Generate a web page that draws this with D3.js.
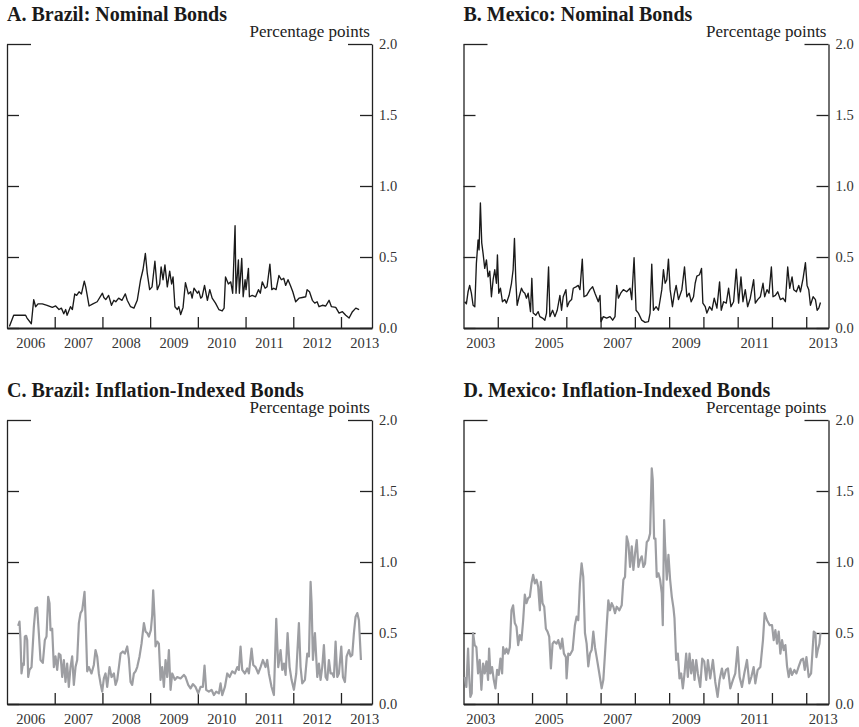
<!DOCTYPE html>
<html>
<head>
<meta charset="utf-8">
<script src="https://cdn.jsdelivr.net/npm/d3@7"></script>
<style>
  body { margin: 0; background: #fff; }
  svg { display: block; }
  svg text { font-family: "Liberation Serif", "Times New Roman", serif; }
</style>
</head>
<body>
<div id="chart"></div>
<script>
// Values: [decimal year, percentage points]
var brazilNominal = [[2006.05,0.01],[2006.14,0.09],[2006.39,0.09],[2006.42,0.07],[2006.51,0.03],[2006.56,0.20],[2006.60,0.15],[2006.65,0.17],[2006.74,0.17],[2006.84,0.16],[2006.95,0.145],[2007.02,0.155],[2007.09,0.13],[2007.14,0.14],[2007.19,0.10],[2007.23,0.13],[2007.26,0.09],[2007.33,0.15],[2007.37,0.13],[2007.42,0.24],[2007.46,0.23],[2007.51,0.255],[2007.56,0.24],[2007.62,0.33],[2007.65,0.29],[2007.72,0.155],[2007.80,0.17],[2007.89,0.185],[2008.00,0.245],[2008.03,0.215],[2008.07,0.20],[2008.13,0.23],[2008.19,0.16],[2008.24,0.195],[2008.28,0.185],[2008.34,0.21],[2008.41,0.195],[2008.48,0.24],[2008.52,0.195],[2008.59,0.15],[2008.66,0.14],[2008.73,0.195],[2008.80,0.34],[2008.85,0.41],[2008.90,0.525],[2008.94,0.385],[2008.99,0.27],[2009.04,0.29],[2009.10,0.47],[2009.15,0.27],[2009.20,0.31],[2009.23,0.43],[2009.27,0.34],[2009.31,0.445],[2009.36,0.29],[2009.41,0.40],[2009.45,0.31],[2009.48,0.36],[2009.52,0.15],[2009.57,0.13],[2009.60,0.15],[2009.64,0.095],[2009.69,0.145],[2009.74,0.32],[2009.80,0.24],[2009.85,0.255],[2009.88,0.21],[2009.92,0.28],[2009.99,0.245],[2010.02,0.26],[2010.06,0.21],[2010.09,0.22],[2010.14,0.30],[2010.20,0.195],[2010.25,0.27],[2010.30,0.21],[2010.37,0.175],[2010.44,0.13],[2010.51,0.12],[2010.55,0.14],[2010.58,0.36],[2010.64,0.31],[2010.69,0.325],[2010.73,0.245],[2010.78,0.72],[2010.80,0.245],[2010.85,0.48],[2010.87,0.245],[2010.92,0.49],[2010.95,0.22],[2010.99,0.34],[2011.01,0.27],[2011.06,0.42],[2011.08,0.22],[2011.14,0.23],[2011.21,0.22],[2011.27,0.27],[2011.31,0.245],[2011.35,0.325],[2011.41,0.28],[2011.45,0.29],[2011.51,0.45],[2011.55,0.27],[2011.59,0.28],[2011.64,0.27],[2011.70,0.37],[2011.75,0.34],[2011.80,0.35],[2011.84,0.30],[2011.89,0.34],[2011.94,0.30],[2011.99,0.255],[2012.05,0.185],[2012.12,0.21],[2012.19,0.215],[2012.26,0.22],[2012.29,0.27],[2012.34,0.255],[2012.40,0.195],[2012.45,0.175],[2012.50,0.185],[2012.54,0.15],[2012.61,0.16],[2012.68,0.155],[2012.75,0.195],[2012.80,0.15],[2012.89,0.145],[2012.96,0.105],[2013.03,0.115],[2013.10,0.09],[2013.17,0.07],[2013.24,0.115],[2013.31,0.14],[2013.38,0.13]];

var mexicoNominal = [[2003.035,0.185],[2003.084,0.17],[2003.133,0.255],[2003.18,0.30],[2003.23,0.245],[2003.28,0.16],[2003.33,0.15],[2003.376,0.455],[2003.425,0.62],[2003.454,0.55],[2003.493,0.88],[2003.532,0.60],[2003.571,0.525],[2003.62,0.42],[2003.669,0.48],[2003.717,0.36],[2003.766,0.40],[2003.815,0.22],[2003.864,0.34],[2003.912,0.41],[2003.961,0.315],[2003.99,0.515],[2004.029,0.245],[2004.078,0.28],[2004.136,0.185],[2004.205,0.20],[2004.253,0.175],[2004.331,0.23],[2004.40,0.315],[2004.448,0.41],[2004.487,0.63],[2004.526,0.34],[2004.565,0.16],[2004.624,0.22],[2004.692,0.28],[2004.74,0.255],[2004.789,0.245],[2004.838,0.21],[2004.887,0.245],[2004.955,0.115],[2004.994,0.35],[2005.033,0.105],[2005.111,0.09],[2005.179,0.115],[2005.228,0.08],[2005.306,0.07],[2005.374,0.055],[2005.423,0.105],[2005.482,0.43],[2005.521,0.08],[2005.599,0.125],[2005.667,0.08],[2005.735,0.125],[2005.813,0.23],[2005.861,0.125],[2005.91,0.22],[2005.988,0.27],[2006.027,0.15],[2006.086,0.185],[2006.154,0.20],[2006.203,0.28],[2006.281,0.29],[2006.349,0.30],[2006.398,0.27],[2006.466,0.485],[2006.515,0.22],[2006.593,0.23],[2006.69,0.27],[2006.768,0.29],[2006.836,0.245],[2006.934,0.185],[2006.983,0.23],[2007.012,0.045],[2007.08,0.08],[2007.177,0.07],[2007.275,0.08],[2007.353,0.055],[2007.421,0.08],[2007.47,0.30],[2007.519,0.21],[2007.587,0.245],[2007.665,0.27],[2007.762,0.255],[2007.86,0.28],[2007.909,0.20],[2007.977,0.495],[2008.035,0.125],[2008.103,0.105],[2008.201,0.055],[2008.298,0.04],[2008.396,0.045],[2008.444,0.105],[2008.493,0.45],[2008.542,0.125],[2008.62,0.15],[2008.688,0.125],[2008.786,0.27],[2008.834,0.41],[2008.883,0.315],[2008.932,0.34],[2008.98,0.485],[2009.029,0.27],[2009.097,0.15],[2009.156,0.245],[2009.205,0.30],[2009.273,0.20],[2009.371,0.27],[2009.449,0.43],[2009.517,0.22],[2009.585,0.245],[2009.643,0.185],[2009.712,0.22],[2009.76,0.315],[2009.809,0.365],[2009.887,0.375],[2009.945,0.42],[2009.984,0.175],[2010.053,0.15],[2010.101,0.105],[2010.179,0.15],[2010.248,0.125],[2010.316,0.21],[2010.394,0.14],[2010.472,0.325],[2010.52,0.125],[2010.589,0.185],[2010.667,0.175],[2010.735,0.28],[2010.803,0.15],[2010.881,0.185],[2010.959,0.415],[2011.027,0.175],[2011.096,0.36],[2011.154,0.185],[2011.222,0.27],[2011.29,0.15],[2011.368,0.21],[2011.466,0.34],[2011.515,0.175],[2011.583,0.20],[2011.661,0.22],[2011.739,0.315],[2011.787,0.22],[2011.856,0.27],[2011.914,0.245],[2011.983,0.43],[2012.031,0.22],[2012.10,0.23],[2012.168,0.255],[2012.246,0.20],[2012.324,0.21],[2012.392,0.185],[2012.46,0.43],[2012.518,0.28],[2012.587,0.36],[2012.636,0.27],[2012.713,0.255],[2012.782,0.30],[2012.831,0.255],[2012.909,0.35],[2012.977,0.46],[2013.025,0.30],[2013.074,0.27],[2013.123,0.16],[2013.201,0.22],[2013.269,0.20],[2013.318,0.125],[2013.367,0.14],[2013.416,0.18]];

var brazilIndexed = [[2006.234,0.55],[2006.262,0.58],[2006.283,0.45],[2006.304,0.215],[2006.332,0.285],[2006.353,0.275],[2006.374,0.475],[2006.402,0.48],[2006.423,0.45],[2006.444,0.19],[2006.472,0.24],[2006.514,0.26],[2006.563,0.545],[2006.597,0.675],[2006.632,0.68],[2006.667,0.50],[2006.702,0.31],[2006.751,0.29],[2006.793,0.45],[2006.828,0.475],[2006.863,0.755],[2006.891,0.71],[2006.912,0.52],[2006.947,0.53],[2006.982,0.26],[2007.017,0.335],[2007.052,0.24],[2007.087,0.355],[2007.122,0.345],[2007.157,0.19],[2007.192,0.31],[2007.226,0.155],[2007.261,0.285],[2007.296,0.12],[2007.331,0.26],[2007.366,0.335],[2007.401,0.135],[2007.436,0.26],[2007.471,0.31],[2007.506,0.57],[2007.541,0.64],[2007.576,0.66],[2007.625,0.79],[2007.646,0.615],[2007.681,0.23],[2007.716,0.26],[2007.771,0.215],[2007.82,0.275],[2007.855,0.38],[2007.89,0.335],[2007.925,0.215],[2007.96,0.145],[2007.995,0.087],[2008.03,0.18],[2008.065,0.215],[2008.10,0.12],[2008.149,0.26],[2008.191,0.19],[2008.24,0.215],[2008.275,0.135],[2008.31,0.17],[2008.345,0.26],[2008.38,0.355],[2008.428,0.37],[2008.47,0.355],[2008.519,0.405],[2008.554,0.32],[2008.589,0.155],[2008.624,0.135],[2008.659,0.215],[2008.694,0.23],[2008.729,0.26],[2008.778,0.335],[2008.82,0.425],[2008.869,0.57],[2008.904,0.51],[2008.939,0.50],[2008.973,0.475],[2009.015,0.52],[2009.043,0.625],[2009.064,0.80],[2009.092,0.615],[2009.113,0.405],[2009.148,0.44],[2009.183,0.425],[2009.218,0.17],[2009.253,0.26],[2009.288,0.12],[2009.323,0.31],[2009.358,0.19],[2009.393,0.38],[2009.428,0.10],[2009.463,0.215],[2009.519,0.17],[2009.568,0.19],[2009.637,0.18],[2009.707,0.205],[2009.742,0.19],[2009.798,0.135],[2009.847,0.11],[2009.896,0.14],[2009.952,0.12],[2010.008,0.075],[2010.057,0.12],[2010.105,0.12],[2010.14,0.27],[2010.175,0.10],[2010.231,0.087],[2010.287,0.10],[2010.336,0.063],[2010.385,0.087],[2010.441,0.075],[2010.476,0.145],[2010.511,0.063],[2010.567,0.12],[2010.616,0.215],[2010.665,0.19],[2010.721,0.23],[2010.777,0.215],[2010.826,0.26],[2010.86,0.24],[2010.895,0.405],[2010.93,0.24],[2010.986,0.215],[2011.035,0.25],[2011.07,0.215],[2011.126,0.39],[2011.161,0.275],[2011.21,0.26],[2011.266,0.215],[2011.314,0.26],[2011.363,0.31],[2011.419,0.26],[2011.454,0.31],[2011.489,0.215],[2011.545,0.12],[2011.594,0.063],[2011.643,0.60],[2011.685,0.26],[2011.734,0.38],[2011.769,0.24],[2011.804,0.285],[2011.839,0.205],[2011.881,0.50],[2011.923,0.26],[2011.964,0.17],[2012.013,0.10],[2012.062,0.215],[2012.118,0.57],[2012.153,0.26],[2012.188,0.145],[2012.244,0.17],[2012.293,0.355],[2012.328,0.335],[2012.363,0.86],[2012.384,0.71],[2012.412,0.31],[2012.454,0.50],[2012.503,0.19],[2012.538,0.285],[2012.572,0.17],[2012.607,0.26],[2012.642,0.415],[2012.677,0.19],[2012.712,0.17],[2012.747,0.31],[2012.782,0.215],[2012.817,0.215],[2012.852,0.19],[2012.887,0.44],[2012.922,0.19],[2012.957,0.215],[2013.006,0.405],[2013.041,0.19],[2013.083,0.155],[2013.118,0.335],[2013.167,0.38],[2013.202,0.335],[2013.236,0.345],[2013.271,0.50],[2013.306,0.615],[2013.341,0.64],[2013.376,0.59],[2013.397,0.45],[2013.418,0.31]];

var mexicoIndexed = [[2003.035,0.19],[2003.084,0.12],[2003.133,0.39],[2003.162,0.215],[2003.201,0.05],[2003.24,0.075],[2003.279,0.50],[2003.327,0.415],[2003.376,0.40],[2003.425,0.215],[2003.474,0.31],[2003.522,0.10],[2003.571,0.285],[2003.62,0.215],[2003.669,0.30],[2003.717,0.17],[2003.747,0.39],[2003.786,0.215],[2003.834,0.26],[2003.883,0.17],[2003.932,0.11],[2003.981,0.24],[2004.029,0.205],[2004.078,0.32],[2004.127,0.215],[2004.156,0.40],[2004.205,0.355],[2004.253,0.39],[2004.302,0.355],[2004.351,0.40],[2004.40,0.66],[2004.448,0.695],[2004.497,0.57],[2004.546,0.545],[2004.595,0.415],[2004.643,0.485],[2004.692,0.45],[2004.741,0.59],[2004.789,0.77],[2004.838,0.71],[2004.887,0.745],[2004.936,0.755],[2004.984,0.85],[2005.033,0.91],[2005.082,0.85],[2005.131,0.875],[2005.179,0.825],[2005.228,0.66],[2005.257,0.86],[2005.306,0.71],[2005.355,0.685],[2005.404,0.53],[2005.452,0.51],[2005.501,0.475],[2005.55,0.25],[2005.599,0.425],[2005.647,0.44],[2005.715,0.425],[2005.764,0.45],[2005.832,0.39],[2005.881,0.46],[2005.93,0.355],[2005.988,0.33],[2006.008,0.18],[2006.057,0.355],[2006.105,0.345],[2006.183,0.38],[2006.251,0.555],[2006.30,0.615],[2006.349,0.59],[2006.398,0.85],[2006.446,0.99],[2006.495,0.895],[2006.544,0.50],[2006.593,0.425],[2006.641,0.265],[2006.69,0.355],[2006.739,0.38],[2006.788,0.51],[2006.836,0.40],[2006.885,0.33],[2006.963,0.215],[2007.031,0.11],[2007.08,0.17],[2007.129,0.355],[2007.177,0.545],[2007.226,0.73],[2007.275,0.66],[2007.324,0.71],[2007.372,0.685],[2007.421,0.64],[2007.47,0.685],[2007.548,0.66],[2007.616,0.695],[2007.665,0.875],[2007.713,0.895],[2007.762,1.18],[2007.811,1.13],[2007.86,0.965],[2007.909,1.11],[2007.957,0.945],[2008.006,1.06],[2008.055,1.155],[2008.103,0.965],[2008.152,1.015],[2008.201,1.04],[2008.25,0.965],[2008.298,0.99],[2008.347,1.14],[2008.396,1.155],[2008.444,1.20],[2008.493,1.66],[2008.522,1.58],[2008.561,1.165],[2008.60,1.165],[2008.639,0.895],[2008.688,0.92],[2008.737,0.875],[2008.785,0.78],[2008.815,0.555],[2008.854,1.295],[2008.883,1.11],[2008.932,0.875],[2008.98,1.05],[2009.029,0.875],[2009.078,0.755],[2009.127,0.675],[2009.156,0.605],[2009.205,0.31],[2009.254,0.355],[2009.302,0.18],[2009.351,0.215],[2009.40,0.11],[2009.449,0.215],[2009.497,0.355],[2009.546,0.19],[2009.595,0.355],[2009.644,0.215],[2009.692,0.31],[2009.741,0.17],[2009.79,0.31],[2009.839,0.215],[2009.907,0.12],[2009.965,0.32],[2010.024,0.30],[2010.082,0.17],[2010.131,0.31],[2010.199,0.18],[2010.277,0.31],[2010.346,0.155],[2010.414,0.05],[2010.472,0.17],[2010.54,0.25],[2010.589,0.18],[2010.657,0.24],[2010.716,0.25],[2010.784,0.11],[2010.862,0.17],[2010.93,0.215],[2010.998,0.40],[2011.057,0.19],[2011.125,0.12],[2011.193,0.215],[2011.271,0.31],[2011.339,0.145],[2011.398,0.19],[2011.466,0.26],[2011.515,0.145],[2011.583,0.24],[2011.661,0.26],[2011.738,0.45],[2011.787,0.64],[2011.856,0.59],[2011.934,0.555],[2012.002,0.555],[2012.051,0.45],[2012.10,0.52],[2012.148,0.425],[2012.197,0.51],[2012.246,0.355],[2012.295,0.45],[2012.343,0.38],[2012.392,0.415],[2012.441,0.265],[2012.49,0.19],[2012.538,0.25],[2012.587,0.205],[2012.655,0.24],[2012.714,0.215],[2012.782,0.265],[2012.85,0.31],[2012.909,0.32],[2012.957,0.24],[2013.006,0.33],[2013.074,0.19],[2013.142,0.215],[2013.191,0.40],[2013.22,0.51],[2013.269,0.50],[2013.298,0.33],[2013.337,0.38],[2013.386,0.425],[2013.415,0.50]];

// tick values and labels
var yTicks = [0, 0.5, 1.0, 1.5, 2.0];
var brazilTicks = [2007, 2008, 2009, 2010, 2011, 2012, 2013];
var brazilLabels = [2006, 2007, 2008, 2009, 2010, 2011, 2012, 2013];
var mexicoTicks = [2004, 2005, 2006, 2007, 2008, 2009, 2010, 2011, 2012, 2013];
var mexicoLabels = [2003, 2005, 2007, 2009, 2011, 2013];
var xEnd = 2013.65;

var width = 859, height = 727;
var panelW = 365, panelH = 284;
var serif = "'Liberation Serif', 'Times New Roman', serif";

var svg = d3.select("#chart").append("svg")
    .attr("width", width)
    .attr("height", height)
    .attr("font-family", serif);

var panels = [
  {title: "A. Brazil: Nominal Bonds", data: brazilNominal, start: 2006, ticks: brazilTicks, labels: brazilLabels, left: 7, top: 44, color: "#1a1a1a", lw: 1.35},
  {title: "B. Mexico: Nominal Bonds", data: mexicoNominal, start: 2003, ticks: mexicoTicks, labels: mexicoLabels, left: 463.5, top: 44, color: "#1a1a1a", lw: 1.35},
  {title: "C. Brazil: Inflation-Indexed Bonds", data: brazilIndexed, start: 2006, ticks: brazilTicks, labels: brazilLabels, left: 7, top: 420, color: "#9d9ea2", lw: 2.2},
  {title: "D. Mexico: Inflation-Indexed Bonds", data: mexicoIndexed, start: 2003, ticks: mexicoTicks, labels: mexicoLabels, left: 463.5, top: 420, color: "#9d9ea2", lw: 2.2}
];

panels.forEach(drawPanel);

function drawPanel(p) {
  var g = svg.append("g")
      .attr("transform", "translate(" + p.left + "," + p.top + ")");

  var x = d3.scaleLinear().domain([p.start, xEnd]).range([0, panelW]);
  var y = d3.scaleLinear().domain([0, 2]).range([panelH, 0]);

  //left axis, ticks point inward
  var left = g.append("g")
      .attr("color", "#222")
      .call(d3.axisRight(y).tickValues(yTicks).tickSizeInner(12).tickSizeOuter(0).tickFormat(""));
  left.selectAll(".tick line").filter(function (d) { return d === 2; }).attr("x2", 24);
  left.selectAll("line, path").attr("stroke-width", 1.3);

  //right axis with labels
  var right = g.append("g")
      .attr("transform", "translate(" + panelW + ",0)")
      .attr("color", "#222")
      .call(d3.axisRight(y).tickValues(yTicks).tickSizeInner(-12).tickSizeOuter(0).tickPadding(7)
        .tickFormat(d3.format(".1f")));
  right.attr("font-family", serif).attr("font-size", 14.5);
  right.selectAll(".tick line").filter(function (d) { return d === 2; }).attr("x2", -24);
  right.selectAll("line, path").attr("stroke-width", 1.3);
  right.selectAll("text").attr("fill", "#333");

  //bottom axis, year ticks pointing up
  var bottom = g.append("g")
      .attr("transform", "translate(0," + panelH + ")")
      .attr("color", "#222")
      .call(d3.axisBottom(x).tickValues(p.ticks).tickSizeInner(-11).tickSizeOuter(0).tickFormat(""));
  bottom.select(".domain").attr("stroke-width", 2.2);
  bottom.selectAll(".tick line").attr("stroke-width", 1.3);

  //year labels centered on mid year
  g.selectAll(".yearLabel")
      .data(p.labels)
      .enter().append("text")
      .attr("class", "yearLabel")
      .attr("x", function (d) { return x(d + 0.5); })
      .attr("y", panelH + 20)
      .attr("text-anchor", "middle")
      .attr("font-size", 14.5)
      .attr("fill", "#333")
      .text(function (d) { return d; });

  var line = d3.line()
      .x(function (d) { return x(d[0]); })
      .y(function (d) { return y(d[1]); });

  g.append("path")
      .datum(p.data)
      .attr("fill", "none")
      .attr("stroke", p.color)
      .attr("stroke-width", p.lw)
      .attr("stroke-linejoin", "round")
      .attr("d", line);

  g.append("text")
      .attr("x", 0)
      .attr("y", -23)
      .attr("font-size", 20)
      .attr("font-weight", "bold")
      .attr("fill", "#1a1a1a")
      .text(p.title);

  g.append("text")
      .attr("x", panelW - 2)
      .attr("y", -7)
      .attr("text-anchor", "end")
      .attr("font-size", 17)
      .attr("fill", "#222")
      .text("Percentage points");
}
</script>
</body>
</html>
